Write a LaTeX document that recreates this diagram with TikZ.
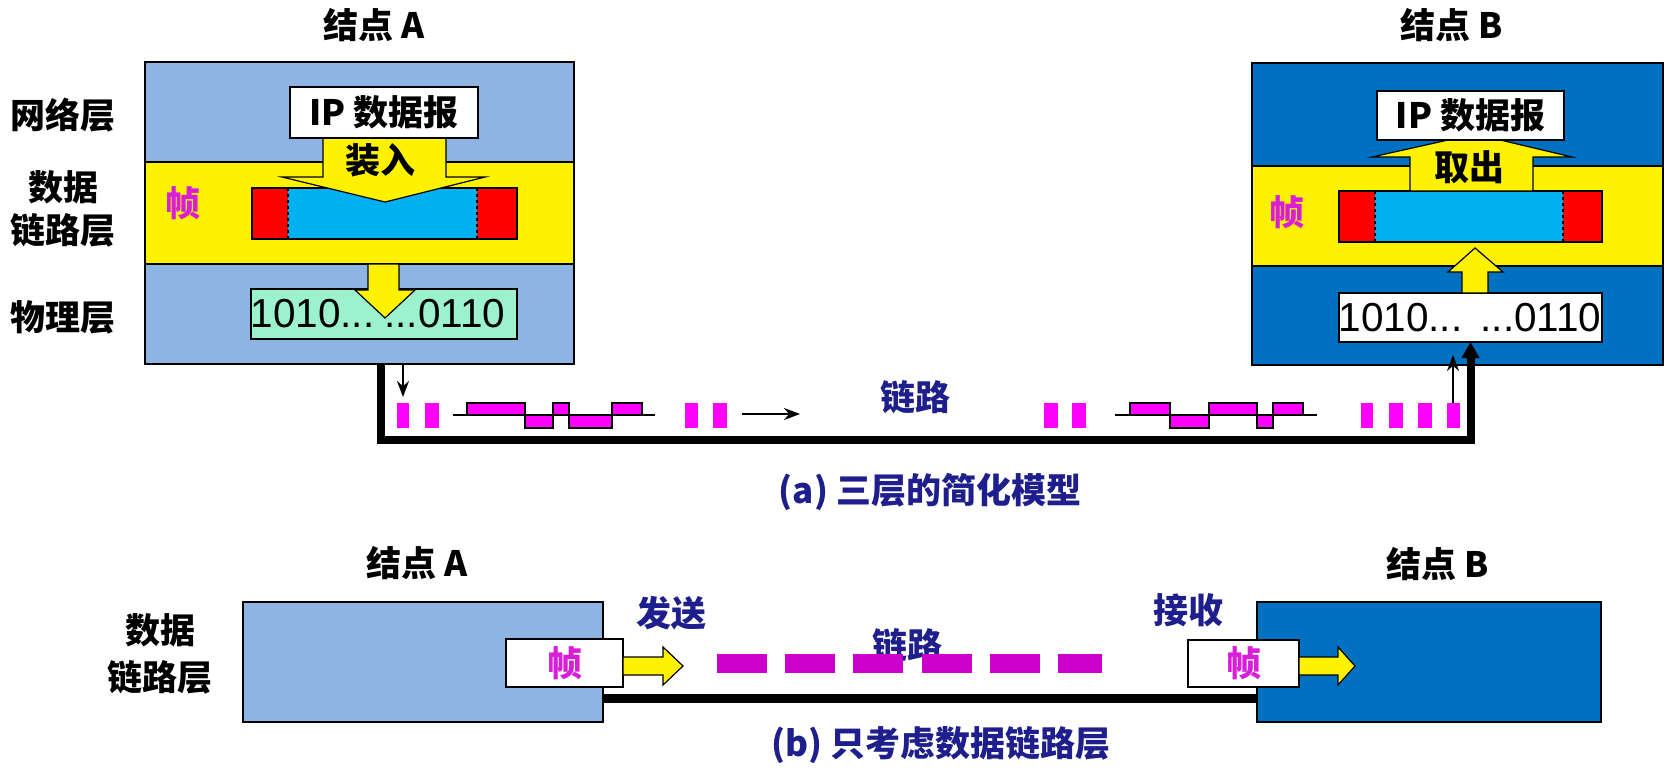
\documentclass[tikz,border=0pt]{standalone}
\usepackage{fontspec}
\setmainfont{Liberation Sans}
\newfontfamily\cjk{Noto Sans CJK SC}
\usetikzlibrary{arrows.meta}
\definecolor{lblue}{HTML}{8EB4E3}
\definecolor{dblue}{HTML}{0070C0}
\definecolor{cyanf}{HTML}{00B0F0}
\definecolor{bitgreen}{HTML}{9CF2CC}
\definecolor{navy}{HTML}{1E1E8C}
\definecolor{mag}{HTML}{FF00FF}
\definecolor{magd}{HTML}{CC00CC}
\definecolor{framecol}{HTML}{D81ED8}
\begin{document}
\begin{tikzpicture}[x=1pt,y=-1pt,
  box/.style={draw=black, line width=1.5pt, inner sep=0pt, outer sep=0pt},
  lbl/.style={font=\cjk\bfseries\fontsize{35}{38}\selectfont, inner sep=0pt, text=black},
  bluelbl/.style={lbl, text=navy},
  framelbl/.style={lbl, text=framecol},
  bits/.style={font=\fontsize{40.5}{44}\selectfont, inner sep=0pt},
  yarrow/.style={draw=black, line width=1.2pt, fill=yellow, line join=miter},
  bit/.style={fill=mag},
  pulse/.style={draw=black, line width=1.2pt, fill=mag},
  link/.style={line width=8pt},
  thinarrow/.style={line width=2pt, -{Stealth[length=16pt,width=12pt]}},
  sep/.style={line width=1.2pt, dashed},
]
\useasboundingbox (0,0) rectangle (1670,769);
\fill[white] (0,0) rectangle (1670,769);

% ---------------- (a) top part ----------------
\node[lbl] (titleA) at (374,25) {结点 A};
\node[lbl] (titleB) at (1452,25) {结点 B};
\node[lbl] (netL) at (63,115) {网络层};
\node[lbl] (dl1) at (63,187) {数据};
\node[lbl] (dl2) at (63,230) {链路层};
\node[lbl] (phyL) at (63,317) {物理层};

% node A
\node[box, fill=lblue, minimum width=429pt, minimum height=302pt] (nodeA) at (359.5,213) {};
\node[box, fill=yellow, minimum width=429pt, minimum height=102pt] (dllA) at (359.5,213) {};
\node[framelbl] (zhenA) at (183,203) {帧};
\node[box, fill=cyanf, minimum width=265pt, minimum height=51pt] (frA) at (384.5,213.5) {};
\fill[red] (252.75,188.75) rectangle (288,238.25);
\fill[red] (477,188.75) rectangle (516.25,238.25);
\draw[sep] (288,188) -- (288,239);
\draw[sep] (477,188) -- (477,239);
\draw[yarrow] (323,138) -- (446,138) -- (446,177) -- (485,177) -- (385,202) -- (282,177) -- (323,177) -- cycle;
\node[box, fill=white, minimum width=188pt, minimum height=51pt, lbl] (ipA) at (384,112.5) {IP 数据报};
\node[lbl] (zr) at (380,160) {装入};
\node[box, fill=bitgreen, minimum width=266pt, minimum height=50pt] (bitsA) at (384,314) {};
\node[bits] (bitsAt) at (378,314) {1010...\hspace{10pt}...0110};
\draw[yarrow] (368,264) -- (399,264) -- (399,290) -- (415,290) -- (385,318) -- (355,290) -- (368,290) -- cycle;

% node B
\node[box, fill=dblue, minimum width=411pt, minimum height=302pt] (nodeB) at (1457.5,214) {};
\node[box, fill=yellow, minimum width=411pt, minimum height=100pt] (dllB) at (1457.5,216) {};
\node[framelbl] (zhenB) at (1287,212) {帧};
\node[box, fill=cyanf, minimum width=263pt, minimum height=51pt] (frB) at (1470.5,216.5) {};
\fill[red] (1339.75,191.75) rectangle (1375,241.25);
\fill[red] (1563,191.75) rectangle (1601.25,241.25);
\draw[sep] (1375,191) -- (1375,242);
\draw[sep] (1563,191) -- (1563,242);
\draw[yarrow] (1410,191) -- (1410,157) -- (1372,157) -- (1475,134) -- (1572,157) -- (1533,157) -- (1533,191) -- cycle;
\node[box, fill=white, minimum width=187pt, minimum height=49pt, lbl] (ipB) at (1470.5,115.5) {IP 数据报};
\node[lbl] (qc) at (1469,167) {取出};
\node[box, fill=white, minimum width=263pt, minimum height=49pt] (bitsB) at (1470.5,317.5) {};
\node[bits] (bitsBt) at (1470,318) {1010...\hspace{18pt}...0110};
\draw[yarrow] (1462,293) -- (1462,272) -- (1448,272) -- (1475,248) -- (1503,272) -- (1488,272) -- (1488,293) -- cycle;

% link
\draw[link, -{Triangle[length=16pt,width=17pt]}] ([xshift=21.5pt]nodeA.south) -- ++(0,76) -| (bitsB.south);
\coordinate (ta1) at (403,365);
\coordinate (ta2) at (403,397);
\draw[thinarrow] (ta1) -- (ta2);
\coordinate (tb1) at (1453,403);
\coordinate (tb2) at (1453,355);
\draw[thinarrow] (tb1) -- (tb2);
\coordinate (fl1) at (742,414);
\coordinate (fl2) at (800,414);
\draw[thinarrow] (fl1) -- (fl2);
\node[bluelbl] (linkA) at (915,397) {链路};

% bits and pulses (left)
\fill[bit] (397,403) rectangle (409,428);
\fill[bit] (425,403) rectangle (439,428);
\fill[bit] (685,403) rectangle (698,428);
\fill[bit] (713,403) rectangle (727,428);
\draw[pulse] (467,403) rectangle (525,415);
\draw[pulse] (525,415) rectangle (553,428);
\draw[pulse] (553,403) rectangle (569,415);
\draw[pulse] (569,415) rectangle (612,428);
\draw[pulse] (612,403) rectangle (642,415);
\draw[line width=2pt] (453,415) -- (655,415);
% bits and pulses (right)
\fill[bit] (1044,403) rectangle (1058,428);
\fill[bit] (1072,403) rectangle (1086,428);
\fill[bit] (1361,403) rectangle (1373,428);
\fill[bit] (1389,403) rectangle (1403,428);
\fill[bit] (1418,403) rectangle (1432,428);
\fill[bit] (1447,403) rectangle (1460,428);
\draw[pulse] (1130,403) rectangle (1170,415);
\draw[pulse] (1170,415) rectangle (1209,428);
\draw[pulse] (1209,403) rectangle (1257,415);
\draw[pulse] (1257,415) rectangle (1273,428);
\draw[pulse] (1273,403) rectangle (1303,415);
\draw[line width=2pt] (1115,415) -- (1317,415);

\node[bluelbl] (capA) at (930,492) {(a) 三层的简化模型};

% ---------------- (b) bottom part ----------------
\node[lbl] (titleA2) at (417,563) {结点 A};
\node[lbl] (titleB2) at (1438,564) {结点 B};
\node[lbl] (dlb1) at (160,630) {数据};
\node[lbl] (dlb2) at (160,677) {链路层};
\node[box, fill=lblue, minimum width=360pt, minimum height=120pt] (nodeA2) at (423,662) {};
\node[box, fill=dblue, minimum width=344pt, minimum height=120pt] (nodeB2) at (1429,662) {};
\draw[line width=9pt] ([yshift=24pt]nodeA2.south east) -- ([yshift=24pt]nodeB2.south west);
\node[box, fill=white, minimum width=117pt, minimum height=48pt, framelbl] (frA2) at (564.5,663) {帧};
\node[box, fill=white, minimum width=111pt, minimum height=47pt, framelbl] (frB2) at (1243.5,663.5) {帧};
\draw[yarrow] (623,657) -- (663,657) -- (663,647) -- (683,666) -- (663,685) -- (663,675) -- (623,675) -- cycle;
\draw[yarrow] (1299,657) -- (1338,657) -- (1338,647) -- (1355,666) -- (1338,685) -- (1338,675) -- (1299,675) -- cycle;
\node[bluelbl] (send) at (671,613) {发送};
\node[bluelbl] (recv) at (1188,610) {接收};
\node[bluelbl] (linkB) at (907,645) {链路};
\foreach \a/\b in {717/767, 785/835, 853/903, 922/972, 990/1040, 1058/1102}
  \fill[magd] (\a,654) rectangle (\b,673);
\node[bluelbl] (capB) at (941,745) {(b) 只考虑数据链路层};
\end{tikzpicture}
\end{document}
